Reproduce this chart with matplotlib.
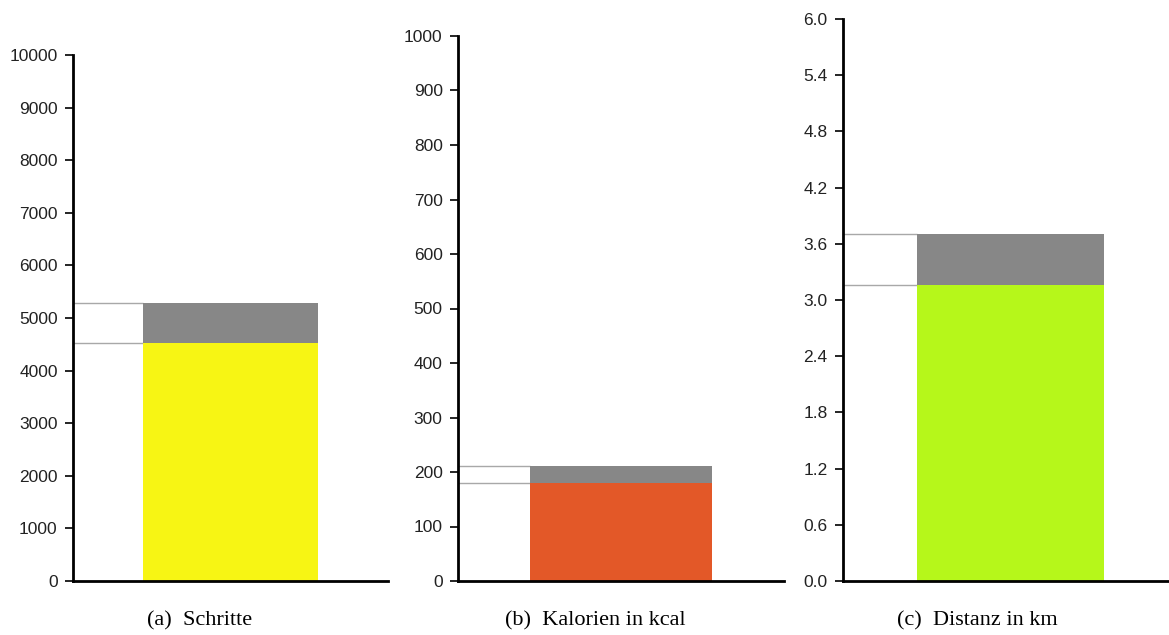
import matplotlib
matplotlib.use("Agg")
import matplotlib.pyplot as plt
import numpy as np

# Data
captions = ["(a)  Schritte", "(b)  Kalorien in kcal", "(c)  Distanz in km"]
achieved = [4525, 180, 3.16]
goal = [5285, 211, 3.705]
ymax = [10000, 1000, 6.0]
ystep = [1000, 100, 0.6]
tick_fmt = ["{:.0f}", "{:.0f}", "{:.1f}"]
bar_colors = ["#f7f514", "#e35828", "#b6f71a"]
gap_color = "#878787"

W, H = 1169, 635
fig = plt.figure(figsize=(W / 100, H / 100), dpi=100)

# pixel geometry of each panel: (left, right, top, bottom)
panels = [(73, 388, 55, 581), (458, 784, 36, 581), (843, 1178, 19, 581)]
caption_x = [200, 595, 977]

for i in range(3):
    l, r, t, b = panels[i]
    ax = fig.add_axes([l / W, 1 - b / H, (r - l) / W, (b - t) / H])
    ax.set_xlim(0, 1)
    ax.set_ylim(0, ymax[i])
    ax.patch.set_alpha(0)
    bw = 0.556
    x0 = 0.5 - bw / 2
    ax.bar([0.5], [achieved[i]], width=bw, color=bar_colors[i], zorder=2)
    ax.bar([0.5], [goal[i] - achieved[i]], bottom=[achieved[i]], width=bw,
           color=gap_color, zorder=2)
    ax.hlines([achieved[i], goal[i]], 0, x0, colors="#a8a8a8", linewidth=1.0, zorder=1)
    for s in ["top", "right"]:
        ax.spines[s].set_visible(False)
    ax.spines["left"].set_linewidth(2)
    ax.spines["bottom"].set_linewidth(2)
    ticks = np.arange(0, ymax[i] + ystep[i] / 2, ystep[i])
    ax.set_yticks(ticks)
    ax.set_yticklabels([tick_fmt[i].format(v) for v in ticks],
                       fontfamily="Liberation Sans", fontsize=12.5, color="#222222")
    ax.tick_params(axis="y", direction="out", length=6, width=1.2, pad=5)
    ax.set_xticks([])
    fig.text(caption_x[i] / W, 1 - 621 / H, captions[i], ha="center", va="center",
             fontfamily="Liberation Serif", fontsize=16)

fig.savefig("out.png", dpi=100)
